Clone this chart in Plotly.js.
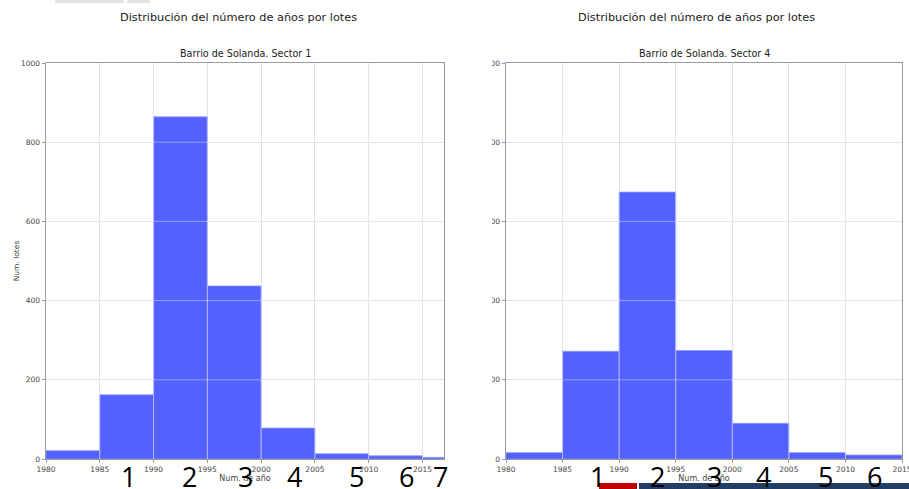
<!DOCTYPE html>
<html>
<head>
<meta charset="utf-8">
<script src="https://cdn.plot.ly/plotly-3.0.1.min.js"></script>
<style>
  html, body { margin: 0; padding: 0; background: #ffffff; overflow: hidden; width: 909px; height: 489px; }
  #left { position: absolute; left: 0; top: 0; width: 470px; height: 489px; }
  #rightClip { position: absolute; left: 492px; top: 0; width: 417px; height: 489px; overflow: hidden; }
  #right { position: absolute; left: -58px; top: 0; width: 475px; height: 489px; }
</style>
</head>
<body>
<div id="left"></div>
<div id="rightClip"><div id="right"></div></div>
<script>
// ---- data ----
const suptitle = "Distribución del número de años por lotes";
const title1 = "Barrio de Solanda. Sector 1";
const title4 = "Barrio de Solanda. Sector 4";
const xAxisTitle = "Num. de año";
const yAxisTitle = "Num. lotes";

const binEdges1 = [1980, 1985, 1990, 1995, 2000, 2005, 2010, 2015, 2017];
const counts1   = [21, 162, 864, 437, 78, 13, 8, 4];

const binEdges4 = [1980, 1985, 1990, 1995, 2000, 2005, 2010, 2015];
const counts4   = [8, 136, 337, 137, 45, 8, 5];

const xTicks = [1980, 1985, 1990, 1995, 2000, 2005, 2010, 2015];
const yTicks1 = [0, 200, 400, 600, 800, 1000];
const yTicks4 = [0, 100, 200, 300, 400, 500];

const numberLabels1 = ["1", "2", "3", "4", "5", "6", "7"];
const numberLabels4 = ["1", "2", "3", "4", "5", "6"];

// ---- styles ----
const BAR = "#5261ff";
const GRID = "#d8d8d8";
const SPINE = "#9a9a9a";
const TICKFONT = { family: "DejaVu Sans", size: 7.5, color: "#444" };
const F = "DejaVu Sans";

function barTrace(edges, counts) {
  const x = edges.slice(0, -1);
  const w = x.map((v, i) => edges[i + 1] - v);
  return {
    type: "bar", x: x, y: counts, width: w, offset: 0,
    marker: { color: BAR, line: { color: "#8d96ff", width: 0.8 } },
    hoverinfo: "skip"
  };
}

function gridOverlay(xvals, yvals, xr, yr) {
  const s = [];
  xvals.filter(v => v > xr[0] && v < xr[1]).forEach(v => s.push({
    type: "line", xref: "x", yref: "paper", x0: v, x1: v, y0: 0, y1: 1, layer: "above",
    line: { color: "rgba(255,255,255,0.38)", width: 1 }
  }));
  yvals.filter(v => v > yr[0] && v < yr[1]).forEach(v => s.push({
    type: "line", xref: "paper", yref: "y", x0: 0, x1: 1, y0: v, y1: v, layer: "above",
    line: { color: "rgba(255,255,255,0.38)", width: 1 }
  }));
  return s;
}

function makeLayout(opts) {
  const ann = [
    { text: suptitle, xref: "paper", yref: "paper", x: opts.supX, y: 1.116, xanchor: "center", yanchor: "middle",
      showarrow: false, font: { family: F, size: 11.3, color: "#222" } },
    { text: opts.title, xref: "paper", yref: "paper", x: 0.5, y: 1.0235, xanchor: "center", yanchor: "middle",
      showarrow: false, font: { family: F, size: 9.6, color: "#222" } }
  ];
  opts.labels.forEach((t, i) => ann.push({
    text: t, xref: "paper", yref: "paper", x: opts.labelX[i], y: -0.045, xanchor: "center", yanchor: "middle",
    showarrow: false, font: { family: "Open Sans", size: 27, color: "#000" }
  }));
  return {
    width: opts.width, height: 489,
    margin: { l: opts.ml, r: opts.mr, t: 63, b: 30, pad: 0 },
    paper_bgcolor: "#ffffff", plot_bgcolor: "#ffffff",
    showlegend: false, bargap: 0,
    xaxis: {
      range: opts.xr, tickvals: xTicks, ticktext: xTicks.map(String),
      ticks: "outside", ticklen: 3, tickwidth: 1, tickcolor: SPINE,
      showline: true, mirror: true, linecolor: SPINE, linewidth: 1,
      showgrid: true, gridcolor: GRID, gridwidth: 1, zeroline: false,
      tickfont: TICKFONT, fixedrange: true, ticklabeloverflow: "allow",
      title: { text: xAxisTitle, font: { family: F, size: 8, color: "#444" }, standoff: 0 }
    },
    yaxis: {
      range: opts.yr, tickvals: opts.yTicks, ticktext: opts.yTicks.map(String),
      ticks: "outside", ticklen: 3.5, tickwidth: 1, tickcolor: SPINE,
      showline: true, mirror: true, linecolor: SPINE, linewidth: 1,
      showgrid: true, gridcolor: GRID, gridwidth: 1, zeroline: false,
      tickfont: TICKFONT, fixedrange: true, ticklabeloverflow: "allow",
      title: { text: yAxisTitle, font: { family: F, size: 7.5, color: "#444" }, standoff: 0 }
    },
    shapes: gridOverlay(xTicks, opts.yTicks, opts.xr, opts.yr).concat(opts.extraShapes || []),
    annotations: ann
  };
}

const cfg = { staticPlot: true, displayModeBar: false };

const leftLayout = makeLayout({
  width: 470, ml: 46, mr: 26, xr: [1980, 2017], yr: [0, 1000], yTicks: yTicks1,
  title: title1, supX: 0.4837, labels: numberLabels1,
  labelX: [0.2085, 0.3618, 0.5, 0.6256, 0.7814, 0.907, 0.990],
  extraShapes: [
    { type: "rect", xref: "paper", yref: "paper", x0: (55 - 46) / 398, x1: (124 - 46) / 398, y0: (459 - 3) / 396, y1: (459 - 0) / 396,
      fillcolor: "#e2e2e2", line: { width: 0 } },
    { type: "rect", xref: "paper", yref: "paper", x0: (127 - 46) / 398, x1: (150 - 46) / 398, y0: (459 - 3) / 396, y1: (459 - 0) / 396,
      fillcolor: "#e2e2e2", line: { width: 0 } }
  ]
});

const rightLayout = makeLayout({
  width: 475, ml: 72, mr: 7, xr: [1980, 2015], yr: [0, 500], yTicks: yTicks4,
  title: title4, supX: 0.482, labels: numberLabels4,
  labelX: [0.2323, 0.3838, 0.5253, 0.6515, 0.8056, 0.9318],
  extraShapes: [
    { type: "rect", xref: "paper", yref: "paper", x0: (599 - 506) / 396, x1: (637 - 506) / 396, y0: (459 - 490) / 396, y1: (459 - 483) / 396,
      fillcolor: "#c00000", line: { width: 0 }, layer: "below" },
    { type: "rect", xref: "paper", yref: "paper", x0: (639 - 506) / 396, x1: (912 - 506) / 396, y0: (459 - 490) / 396, y1: (459 - 483) / 396,
      fillcolor: "#243d62", line: { width: 0 }, layer: "below" }
  ]
});

Plotly.newPlot("left", [barTrace(binEdges1, counts1)], leftLayout, cfg);
Plotly.newPlot("right", [barTrace(binEdges4, counts4)], rightLayout, cfg);
</script>
</body>
</html>
